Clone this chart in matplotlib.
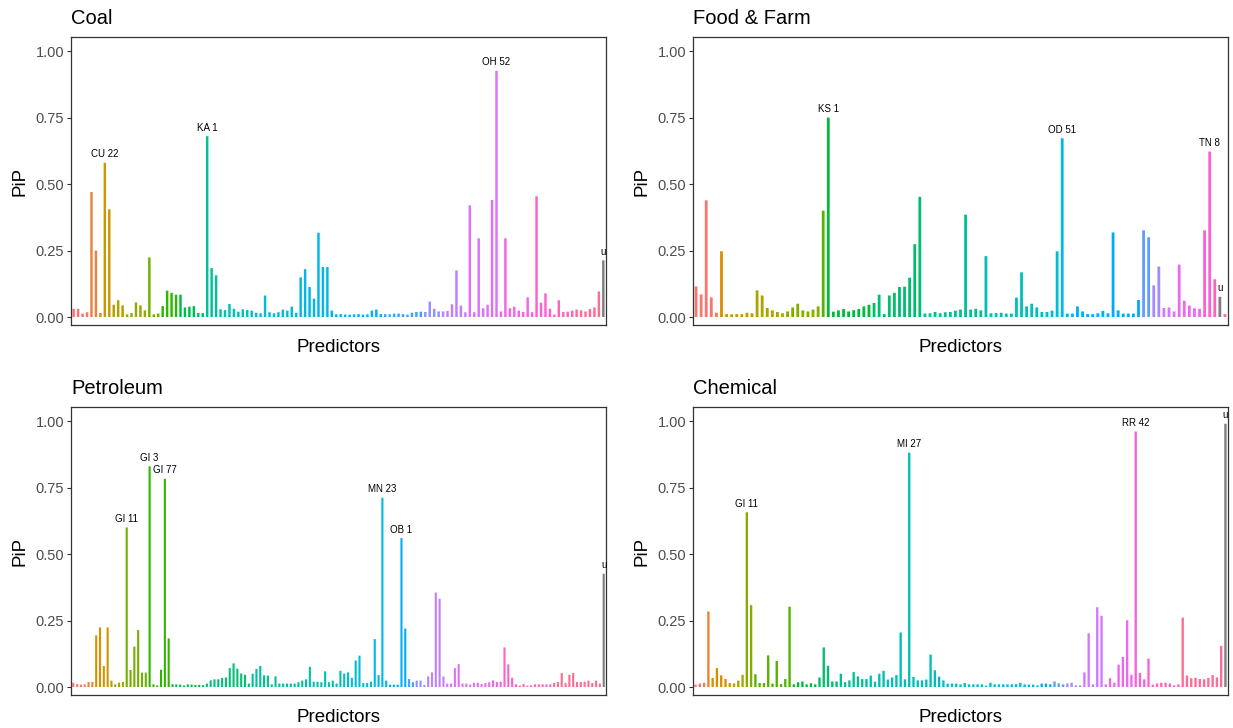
import numpy as np
import matplotlib
matplotlib.use("Agg")
import matplotlib.pyplot as plt

plt.rcParams['font.family'] = ['Liberation Sans', 'DejaVu Sans']

# ---------------- data ----------------
coal_pip = [0.031,0.031,0.013,0.018,0.47,0.25,0.015,0.58,0.405,0.046,
            0.063,0.044,0.01,0.015,0.055,0.044,0.025,0.224,0.01,0.013,
            0.041,0.099,0.091,0.084,0.084,0.036,0.039,0.041,0.015,0.015,
            0.68,0.184,0.157,0.029,0.026,0.049,0.031,0.02,0.029,0.026,
            0.024,0.016,0.014,0.081,0.018,0.014,0.018,0.028,0.024,0.039,
            0.016,0.149,0.18,0.113,0.069,0.317,0.188,0.188,0.024,0.01,
            0.011,0.009,0.009,0.01,0.011,0.009,0.01,0.024,0.028,0.011,
            0.011,0.01,0.013,0.013,0.011,0.009,0.016,0.019,0.02,0.019,
            0.058,0.031,0.021,0.021,0.023,0.048,0.175,0.043,0.018,0.42,
            0.018,0.296,0.033,0.046,0.44,0.926,0.021,0.296,0.033,0.039,
            0.024,0.019,0.074,0.018,0.454,0.054,0.089,0.031,0.009,0.063,
            0.019,0.02,0.024,0.028,0.025,0.021,0.03,0.036,0.096,0.213]
coal_groups = [4,2,1,2,3,5,3,4,4,2,3,7,10,8,12,9,4,6,7,7,5,5,6]
coal_u = 119
coal_label_idx = [7, 30, 95, 119]
coal_label_txt = ["CU 22", "KA 1", "OH 52", "u"]

food_pip = [0.115,0.085,0.439,0.074,0.016,0.247,0.011,0.01,0.011,0.011,
            0.016,0.014,0.1,0.081,0.034,0.025,0.019,0.014,0.021,0.036,
            0.05,0.025,0.021,0.028,0.04,0.4,0.75,0.02,0.025,0.03,
            0.021,0.026,0.03,0.04,0.046,0.053,0.084,0.011,0.081,0.091,
            0.113,0.114,0.148,0.274,0.452,0.013,0.014,0.019,0.014,0.018,
            0.019,0.024,0.028,0.385,0.028,0.031,0.025,0.229,0.014,0.015,
            0.016,0.013,0.013,0.073,0.168,0.04,0.05,0.036,0.019,0.019,
            0.024,0.247,0.672,0.013,0.013,0.04,0.021,0.011,0.011,0.014,
            0.023,0.014,0.318,0.025,0.013,0.013,0.013,0.064,0.326,0.3,
            0.119,0.19,0.034,0.036,0.021,0.197,0.061,0.043,0.033,0.031,
            0.326,0.622,0.142,0.076,0.011]
food_groups = [4,1,1,6,6,7,1,9,10,12,12,3,3,13,2,2,3,5,2,1,1]
food_u = 103
food_label_idx = [26, 72, 101, 103]
food_label_txt = ["KS 1", "OD 51", "TN 8", "u"]

petro_pip = [0.016,0.011,0.009,0.01,0.019,0.019,0.194,0.224,0.079,0.224,
             0.024,0.01,0.016,0.019,0.6,0.064,0.152,0.214,0.054,0.054,
             0.83,0.01,0.006,0.065,0.783,0.183,0.01,0.01,0.009,0.006,
             0.01,0.009,0.008,0.008,0.007,0.013,0.025,0.029,0.029,0.034,
             0.036,0.071,0.089,0.069,0.051,0.046,0.013,0.05,0.068,0.079,
             0.044,0.043,0.01,0.04,0.013,0.013,0.013,0.013,0.013,0.018,
             0.024,0.029,0.076,0.02,0.02,0.018,0.059,0.018,0.024,0.013,
             0.061,0.051,0.055,0.034,0.1,0.118,0.015,0.015,0.02,0.18,
             0.045,0.712,0.024,0.009,0.009,0.009,0.56,0.22,0.03,0.018,
             0.024,0.024,0.008,0.04,0.055,0.355,0.332,0.04,0.013,0.013,
             0.071,0.086,0.013,0.013,0.009,0.016,0.016,0.011,0.015,0.018,
             0.025,0.019,0.02,0.149,0.085,0.035,0.01,0.005,0.011,0.005,
             0.006,0.01,0.01,0.01,0.01,0.01,0.015,0.019,0.053,0.015,
             0.046,0.053,0.019,0.019,0.02,0.024,0.015,0.024,0.013,0.426]
petro_groups = [4,2,2,2,1,3,6,6,9,12,15,9,7,5,5,2,3,5,8,7,3,10,13]
petro_u = 139
petro_label_idx = [14, 20, 24, 81, 86, 139]
petro_label_txt = ["GI 11", "GI 3", "GI 77", "MN 23", "OB 1", "u"]

chem_pip = [0.009,0.013,0.016,0.284,0.034,0.071,0.044,0.03,0.015,0.013,
            0.024,0.046,0.657,0.308,0.048,0.015,0.015,0.119,0.013,0.098,
            0.011,0.03,0.302,0.01,0.018,0.021,0.01,0.014,0.01,0.036,
            0.149,0.08,0.021,0.021,0.05,0.018,0.025,0.056,0.04,0.03,
            0.03,0.043,0.02,0.05,0.061,0.028,0.036,0.045,0.205,0.029,
            0.881,0.038,0.025,0.025,0.028,0.122,0.063,0.039,0.025,0.013,
            0.013,0.013,0.01,0.015,0.01,0.01,0.01,0.01,0.005,0.016,
            0.01,0.01,0.01,0.01,0.01,0.011,0.016,0.01,0.009,0.009,
            0.006,0.013,0.013,0.01,0.021,0.014,0.01,0.013,0.016,0.006,
            0.006,0.055,0.202,0.01,0.3,0.268,0.01,0.033,0.016,0.084,
            0.113,0.251,0.046,0.961,0.053,0.029,0.107,0.009,0.013,0.016,
            0.016,0.013,0.006,0.01,0.261,0.043,0.033,0.035,0.03,0.029,
            0.034,0.045,0.036,0.155,0.99]
chem_groups = [3,1,4,2,2,2,9,6,5,7,17,12,11,3,3,4,6,6,4,7,10]
chem_u = 124
chem_label_idx = [12, 50, 103, 124]
chem_label_txt = ["GI 11", "MI 27", "RR 42", "u"]

panel_titles = ["Coal", "Food & Farm", "Petroleum", "Chemical"]
y_ticks = [0.0, 0.25, 0.5, 0.75, 1.0]
y_tick_labels = ["0.00", "0.25", "0.50", "0.75", "1.00"]


# ---------------- ggplot-like hue palette ----------------
def hcl_hex(h, c=100.0, l=65.0):
    Xn, Yn, Zn = 95.047, 100.0, 108.883
    hr = np.deg2rad(h)
    U = c * np.cos(hr)
    V = c * np.sin(hr)
    Y = Yn * ((l + 16) / 116) ** 3 if l > 8 else Yn * l / 903.3
    t = Xn + 15 * Yn + 3 * Zn
    un, vn = 4 * Xn / t, 9 * Yn / t
    up = U / (13 * l) + un
    vp = V / (13 * l) + vn
    X = 9.0 * Y * up / (4 * vp)
    Z = -X / 3 - 5 * Y + 3 * Y / vp
    X, Y, Z = X / 100, Y / 100, Z / 100
    r = 3.240479 * X - 1.537150 * Y - 0.498535 * Z
    g = -0.969256 * X + 1.875992 * Y + 0.041556 * Z
    b = 0.055648 * X - 0.204043 * Y + 1.057311 * Z

    def gam(v):
        v = 12.92 * v if v <= 0.0031308 else 1.055 * v ** (1 / 2.4) - 0.055
        return min(max(v, 0.0), 1.0)
    return (gam(r), gam(g), gam(b))


def hue_pal(n):
    hs = np.linspace(15, 375, n + 1)[:-1]
    return [hcl_hex(h) for h in hs]


def bar_colors(n, sizes, u_idx):
    pal = hue_pal(len(sizes))
    seq = []
    for gi, s in enumerate(sizes):
        seq += [gi] * s
    it = iter(seq)
    cols = []
    for i in range(n):
        if i == u_idx:
            cols.append("#7F7F7F")
        else:
            cols.append(pal[next(it)])
    return cols


W, H = 1233, 728
fig = plt.figure(figsize=(W / 100, H / 100), dpi=100)

panels = [
    (coal_pip, coal_groups, coal_u, coal_label_idx, coal_label_txt, (71, 37, 606, 325)),
    (food_pip, food_groups, food_u, food_label_idx, food_label_txt, (693, 37, 1228, 325)),
    (petro_pip, petro_groups, petro_u, petro_label_idx, petro_label_txt, (71, 407, 606, 695)),
    (chem_pip, chem_groups, chem_u, chem_label_idx, chem_label_txt, (693, 407, 1228, 695)),
]

for (vals, groups, uidx, lidx, ltxt, box), title in zip(panels, panel_titles):
    l, t, r, b = box
    ax = fig.add_axes([l / W, 1 - b / H, (r - l) / W, (b - t) / H])
    n = len(vals)
    x = np.arange(n)
    bars = ax.bar(x, vals, width=0.55, color=bar_colors(n, groups, uidx), linewidth=0)
    for p in bars:
        p.set_snap(False)
    ax.set_xlim(-0.6, n - 0.4)
    ax.set_ylim(-0.03, 1.053)
    ax.set_yticks(y_ticks)
    ax.set_yticklabels(y_tick_labels)
    ax.set_xticks([])
    ax.tick_params(axis='y', length=3, width=0.8, color='#333333',
                   labelsize=10.5, labelcolor='#4D4D4D', pad=2)
    for s in ax.spines.values():
        s.set_color('#333333')
        s.set_linewidth(0.9)
    for i, txt in zip(lidx, ltxt):
        ax.annotate(txt, (x[i], vals[i]), xytext=(0, 2.5), textcoords='offset points',
                    ha='center', va='bottom', fontsize=7, color='black',
                    annotation_clip=False)
    fig.text(l / W, 1 - (t - 19) / H, title, fontsize=14.5, ha='left', va='center')
    fig.text((l + r) / 2 / W, 1 - (b + 22) / H, "Predictors", fontsize=13.5,
             ha='center', va='center')
    fig.text((l - 51) / W, 1 - (t + b) / 2 / H, "PiP", fontsize=13.5, rotation=90,
             ha='center', va='center')

fig.savefig("out.png", dpi=100, facecolor='white')
